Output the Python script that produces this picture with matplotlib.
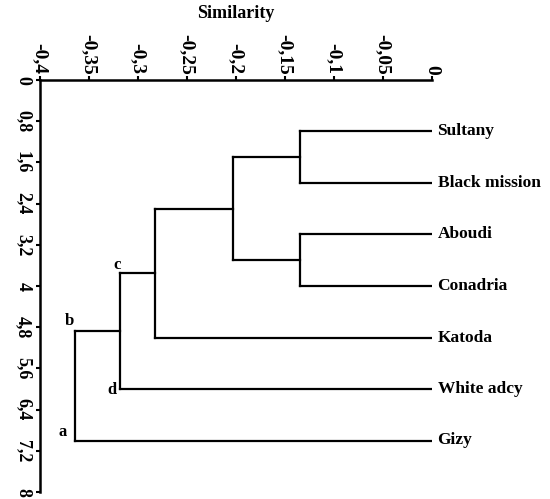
import matplotlib.pyplot as plt
import numpy as np

plt.rcParams['font.family'] = ['Liberation Serif', 'DejaVu Serif']

leaves = ['Sultany', 'Black mission', 'Aboudi', 'Conadria', 'Katoda', 'White adcy', 'Gizy']
# merges, like a linkage table: children ids (leaves 0..6, new nodes 7..)
merge_a = [0, 2, 7, 9, 10, 11]
merge_b = [1, 3, 8, 4, 5, 6]
merge_h = [-0.135, -0.135, -0.203, -0.283, -0.318, -0.364]

xticks = [-0.4, -0.35, -0.3, -0.25, -0.2, -0.15, -0.1, -0.05, 0]
yticks = [0, 0.8, 1.6, 2.4, 3.2, 4, 4.8, 5.6, 6.4, 7.2, 8]

fig = plt.figure(figsize=(5.5, 4.99), dpi=100)
ax = fig.add_axes([40 / 550, 1 - 492 / 499, 392 / 550, 412 / 499])

pos_y = {i: i + 1.0 for i in range(len(leaves))}
pos_x = {i: 0.0 for i in range(len(leaves))}
lw = 1.6
for k, (a, b, h) in enumerate(zip(merge_a, merge_b, merge_h)):
    node = len(leaves) + k
    for c in (a, b):
        ax.plot([pos_x[c], h], [pos_y[c], pos_y[c]], color='black', lw=lw, solid_capstyle='projecting')
    ax.plot([h, h], [pos_y[a], pos_y[b]], color='black', lw=lw, solid_capstyle='projecting')
    pos_x[node] = h
    pos_y[node] = (pos_y[a] + pos_y[b]) / 2

for i, name in enumerate(leaves):
    ax.annotate(name, (0, pos_y[i]), xytext=(4, 0), textcoords='offset points',
                ha='left', va='center', fontsize=12.5, fontweight='bold')

# letters at the corners of the two outer clusters
marks = [('c', merge_h[4], pos_y[10], (-2, 6)),
         ('d', merge_h[4], pos_y[5], (-6, -1)),
         ('b', merge_h[5], pos_y[11], (-4, 7)),
         ('a', merge_h[5], pos_y[6], (-9, 6))]
for t, x, y, off in marks:
    ax.annotate(t, (x, y), xytext=off, textcoords='offset points',
                ha='center', va='center', fontsize=12, fontweight='bold')

ax.set_xlim(-0.4, 0)
ax.set_ylim(8, 0)
ax.xaxis.tick_top()
ax.xaxis.set_label_position('top')
ax.set_xticks(xticks)
ax.set_xticklabels([('%g' % v).replace('.', ',') for v in xticks], rotation=-90,
                   fontsize=14, fontweight='bold')
ax.set_yticks(yticks)
ax.set_yticklabels([('%g' % v).replace('.', ',') for v in yticks], rotation=-90,
                   fontsize=13, fontweight='bold', va='center')
ax.set_xlabel('Similarity', fontsize=13, fontweight='bold', labelpad=11)
ax.tick_params(width=1.5, length=3, pad=1)
ax.tick_params(axis='y', pad=3)
for s in ['right', 'bottom']:
    ax.spines[s].set_visible(False)
ax.spines['top'].set_linewidth(1.8)
ax.spines['left'].set_linewidth(1.8)

fig.savefig('out.png', dpi=100)
